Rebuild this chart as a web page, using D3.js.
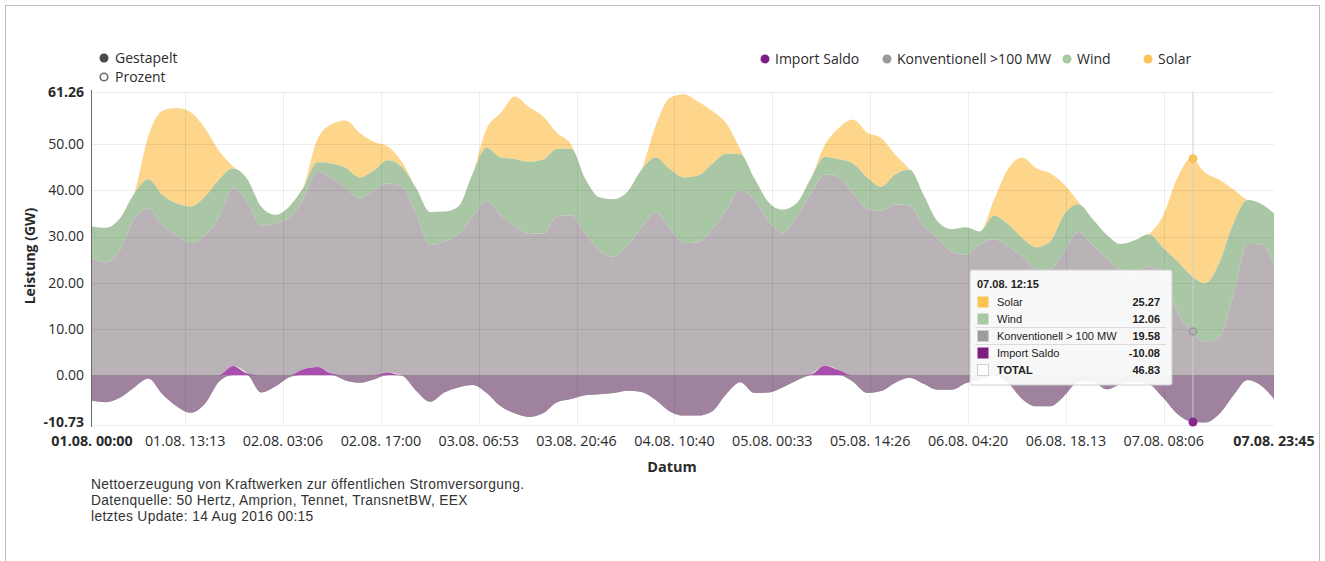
<!DOCTYPE html>
<html>
<head>
<meta charset="utf-8">
<script src="https://cdn.jsdelivr.net/npm/d3@7/dist/d3.min.js"></script>
<style>
  body { margin: 0; background: #fff; }
  svg text { font-family: "Open Sans", "Noto Sans", sans-serif; fill: #2b2b2b; }
  .tip text { font-family: "Liberation Sans Narrow", "Liberation Sans", Arial, sans-serif; font-size: 11px; fill: #222; }
  .footer text { font-family: "Liberation Sans", Arial, sans-serif; font-size: 13.8px; letter-spacing: 0.33px; fill: #333; }
</style>
</head>
<body>
<svg id="chart" width="1325" height="561"></svg>
<script>
///////////////////////////////////////////////////////////////////////////
// Data (GW, one value every 2 hours from 01.08. 00:00, last at 07.08. 23:45)
///////////////////////////////////////////////////////////////////////////

const startTime = new Date(2016, 7, 1, 0, 0);
const endTime = new Date(2016, 7, 7, 23, 45);

const importSaldo = [
    -5.5, -5.8, -4.8, -2.6, -0.7, -4.1, -6.7, -8.1, -6.2, -1.4, 2.0, 0.4,
    -3.7, -2.4, -0.4, 1.3, 1.8, 0.4, -1.1, -1.6, -0.9, 0.6, -0.1, -3.3,
    -5.7, -3.7, -2.6, -2.1, -3.8, -6.7, -8.2, -9.0, -8.2, -5.8, -5.1, -4.3,
    -4.1, -3.8, -3.3, -3.6, -5.3, -7.8, -8.7, -8.7, -7.8, -4.1, -1.5, -3.8,
    -3.7, -2.6, -1.1, 0.2, 2.1, 1.1, -1.4, -3.8, -3.4, -1.6, -0.5, -1.8,
    -3.1, -3.1, -1.7, -0.9, 0.1, -1.6, -5.1, -6.7, -6.7, -4.4, -1.4, -1.3,
    -3.0, -1.9, -1.4, -1.9, -4.8, -8.3, -10.0, -10.2, -8.3, -4.3, -1.0, -2.3,
    -5.1
];
const konventionell = [
    30.9, 30.2, 32.0, 36.6, 36.8, 36.6, 37.0, 36.7, 36.5, 35.5, 38.4, 37.3,
    36.1, 35.3, 34.4, 37.0, 42.2, 42.3, 41.7, 39.8, 40.9, 40.9, 41.0, 38.3,
    33.9, 32.7, 33.1, 36.4, 41.5, 41.4, 40.3, 39.8, 38.8, 40.2, 39.7, 35.1,
    31.1, 29.5, 31.3, 35.7, 40.5, 39.7, 37.3, 37.5, 39.3, 39.8, 41.5, 41.8,
    37.1, 33.4, 35.5, 39.0, 41.3, 41.7, 40.8, 39.8, 39.0, 38.6, 37.2, 34.2,
    32.8, 29.8, 27.7, 29.2, 29.4, 29.5, 30.9, 29.8, 29.6, 31.5, 32.4, 29.6,
    28.4, 24.8, 23.6, 25.5, 26.7, 22.3, 19.5, 17.5, 16.6, 21.9, 29.4, 30.6,
    29.1
];
const wind = [
    6.8, 7.5, 6.8, 5.3, 6.3, 6.5, 6.9, 7.9, 8.3, 8.2, 4.3, 4.8,
    4.1, 1.8, 2.5, 2.3, 2.1, 3.1, 4.3, 4.6, 4.3, 5.0, 4.1, 5.5,
    7.1, 6.4, 6.0, 9.2, 11.5, 12.4, 14.7, 15.4, 16.0, 14.6, 14.4, 11.7,
    11.5, 12.4, 11.7, 12.4, 11.9, 12.7, 14.2, 14.4, 14.2, 12.2, 7.8, 4.6,
    4.1, 5.0, 2.8, 3.3, 3.8, 3.9, 6.4, 6.8, 5.2, 6.4, 7.8, 6.7,
    3.6, 4.9, 6.0, 2.8, 5.0, 4.8, 3.9, 4.6, 6.1, 7.8, 6.0, 5.5,
    5.0, 5.5, 7.0, 6.9, 5.7, 10.7, 12.1, 12.6, 16.1, 15.3, 9.5, 8.7,
    11.0
];
const solar = [
    0, 0, 0, 0, 9.4, 18.2, 20.6, 20.4, 14.9, 6.3, 0.5, 0,
    0, 0, 0, 0, 5.0, 8.5, 10.2, 9.6, 6.2, 3.0, 1.1, 0,
    0, 0, 0, 0, 4.1, 9.6, 13.5, 11.8, 9.4, 3.4, 0.9, 0,
    0, 0, 0, 0, 6.9, 15.4, 18.0, 16.0, 11.5, 6.6, 1.1, 0,
    0, 0, 0, 0, 2.6, 6.8, 9.5, 9.7, 10.5, 4.3, 0, 0,
    0, 0, 0, 0, 3.4, 11.9, 17.4, 17.1, 14.7, 6.3, 0.5, 0,
    0, 0, 0, 0, 6.9, 17.9, 25.3, 23.9, 17.9, 7.3, 0, 0,
    0
];

const xTickLabels = ["01.08. 00:00", "01.08. 13:13", "02.08. 03:06", "02.08. 17:00",
    "03.08. 06:53", "03.08. 20:46", "04.08. 10:40", "05.08. 00:33", "05.08. 14:26",
    "06.08. 04:20", "06.08. 18.13", "07.08. 08:06", "07.08. 23:45"];
const yTickValues = [-10.73, 0, 10, 20, 30, 40, 50, 61.26];

const seriesKeys = ["importSaldo", "konventionell", "wind", "solar"];
const legendNames = ["Import Saldo", "Konventionell >100 MW", "Wind", "Solar"];
const legendColors = ["#7d1f82", "#9b9b9b", "#a9c8a4", "#fbc456"];
const modeNames = ["Gestapelt", "Prozent"];

// hovered point shown in the tooltip
const tipTime = new Date(2016, 7, 7, 12, 15);
const tipNames = ["Solar", "Wind", "Konventionell > 100 MW", "Import Saldo", "TOTAL"];
const tipValues = [25.27, 12.06, 19.58, -10.08, 46.83];
const tipSwatches = ["#f9c452", "#a9c8a4", "#9d9d9d", "#7d1f82", "#ffffff"];

const footerLines = [
    "Nettoerzeugung von Kraftwerken zur öffentlichen Stromversorgung.",
    "Datenquelle: 50 Hertz, Amprion, Tennet, TransnetBW, EEX",
    "letztes Update: 14 Aug 2016 00:15"
];

///////////////////////////////////////////////////////////////////////////
// Setup
///////////////////////////////////////////////////////////////////////////

const svg = d3.select("#chart");
const plot = { left: 92, right: 1274, top: 92, bottom: 425 };

// the last sample is 23:45, all others on the 2 hour grid
const times = importSaldo.map((d, i) =>
    i < importSaldo.length - 1 ? d3.timeHour.offset(startTime, 2 * i) : endTime);

const rows = times.map((t, i) => ({
    time: t,
    importSaldo: importSaldo[i],
    konventionell: konventionell[i],
    wind: wind[i],
    solar: solar[i]
}));

// tick labels carry their own time ("18.13" typo included)
function parseLabel(s) {
    let m = s.match(/(\d+)\.(\d+)\. (\d+)[:.](\d+)/);
    return new Date(2016, +m[2] - 1, +m[1], +m[3], +m[4]);
}
const xTickTimes = xTickLabels.map(parseLabel);

const x = d3.scaleTime()
    .domain([startTime, endTime])
    .range([plot.left, plot.right]);

const y = d3.scaleLinear()
    .domain([yTickValues[0], yTickValues[yTickValues.length - 1]])
    .range([plot.bottom, plot.top]);

// Highcharts-like cumulative stack: every series starts where the previous ended
const stacked = d3.stack().keys(seriesKeys).offset(d3.stackOffsetNone)(rows);

const fmt = function(v) { return v.toFixed(2); };   // plain hyphen minus, like the original

///////////////////////////////////////////////////////////////////////////
// Frame
///////////////////////////////////////////////////////////////////////////

svg.append("rect")
    .attr("x", 5.5).attr("y", 5.5)
    .attr("width", 1314).attr("height", 620)
    .attr("fill", "none")
    .attr("stroke", "#bdbdbd");

///////////////////////////////////////////////////////////////////////////
// Areas
///////////////////////////////////////////////////////////////////////////

const areaColors = { konventionell: "#b9b2b6", wind: "#a9c7a4", solar: "#fed68b" };

const gArea = svg.append("g");

["solar", "wind", "konventionell"].forEach(function(key) {
    let layer = stacked[seriesKeys.indexOf(key)];
    let area = d3.area()
        .curve(d3.curveMonotoneX)
        .x(function(d) { return x(d.data.time); })
        .y0(function(d) { return y(d[0]); })
        .y1(function(d) { return y(d[1]); });
    gArea.append("path")
        .datum(layer)
        .attr("fill", areaColors[key])
        .attr("d", area);
});

// import: negative part pale, positive part saturated
const impLayer = stacked[0];
const impNeg = d3.area()
    .curve(d3.curveMonotoneX)
    .x(function(d) { return x(d.data.time); })
    .y0(y(0))
    .y1(function(d) { return y(Math.min(d[1], 0)); });
const impPos = d3.area()
    .curve(d3.curveMonotoneX)
    .x(function(d) { return x(d.data.time); })
    .y0(y(0))
    .y1(function(d) { return y(Math.max(d[1], 0)); });

gArea.append("path").datum(impLayer).attr("fill", "#9e829e").attr("d", impNeg);
gArea.append("path").datum(impLayer).attr("fill", "#a94eac").attr("d", impPos);

///////////////////////////////////////////////////////////////////////////
// Grid and axes
///////////////////////////////////////////////////////////////////////////

const gGrid = svg.append("g");

gGrid.selectAll("line.h")
    .data(yTickValues)
    .enter().append("line")
        .attr("x1", plot.left).attr("x2", plot.right)
        .attr("y1", function(d) { return Math.round(y(d)) + 0.5; })
        .attr("y2", function(d) { return Math.round(y(d)) + 0.5; })
        .attr("stroke", "rgba(0,0,0,0.07)");

gGrid.selectAll("line.v")
    .data(xTickTimes.slice(1, -1))
    .enter().append("line")
        .attr("x1", function(d) { return Math.round(x(d)) + 0.5; })
        .attr("x2", function(d) { return Math.round(x(d)) + 0.5; })
        .attr("y1", plot.top).attr("y2", plot.bottom)
        .attr("stroke", "rgba(0,0,0,0.07)");

svg.append("line")
    .attr("x1", plot.left - 0.5).attr("x2", plot.left - 0.5)
    .attr("y1", plot.top - 2).attr("y2", plot.bottom + 2)
    .attr("stroke", "#6a6a6a");

const last = yTickValues.length - 1;
svg.append("g").selectAll("text")
    .data(yTickValues)
    .enter().append("text")
        .attr("x", 84)
        .attr("y", function(d, i) { return i === 0 ? y(d) - 3 : y(d); })
        .attr("dy", "0.35em")
        .attr("text-anchor", "end")
        .attr("font-size", 14)
        .attr("font-weight", function(d, i) { return (i === 0 || i === last) ? 700 : 400; })
        .text(function(d) { return fmt(d); });

svg.append("g").selectAll("text")
    .data(xTickTimes)
    .enter().append("text")
        .attr("x", function(d) { return x(d); })
        .attr("y", 446)
        .attr("text-anchor", "middle")
        .attr("font-size", 14.3)
        .attr("font-weight", function(d, i) { return (i === 0 || i === xTickTimes.length - 1) ? 700 : 400; })
        .text(function(d, i) { return xTickLabels[i]; });

svg.append("text")
    .attr("x", 672).attr("y", 472)
    .attr("text-anchor", "middle")
    .attr("font-size", 14.5)
    .attr("font-weight", 700)
    .text("Datum");

svg.append("text")
    .attr("transform", "translate(35,256) rotate(-90)")
    .attr("text-anchor", "middle")
    .attr("font-size", 14)
    .attr("font-weight", 700)
    .text("Leistung (GW)");

///////////////////////////////////////////////////////////////////////////
// Legends
///////////////////////////////////////////////////////////////////////////

const gMode = svg.append("g");
modeNames.forEach(function(name, i) {
    let cy = 58 + i * 19;
    gMode.append("circle")
        .attr("cx", 104).attr("cy", cy).attr("r", i === 0 ? 4.5 : 3.8)
        .attr("fill", i === 0 ? "#4a4a4a" : "#fff")
        .attr("stroke", i === 0 ? "#4a4a4a" : "#6d6d6d")
        .attr("stroke-width", i === 0 ? 0 : 1.6);
    gMode.append("text")
        .attr("x", 115).attr("y", cy).attr("dy", "0.35em")
        .attr("font-size", 14)
        .text(name);
});

const legendX = [765, 887, 1067, 1148];
const gLegend = svg.append("g");
legendNames.forEach(function(name, i) {
    gLegend.append("circle")
        .attr("cx", legendX[i]).attr("cy", 59).attr("r", 4.5)
        .attr("fill", legendColors[i]);
    gLegend.append("text")
        .attr("x", legendX[i] + 10).attr("y", 59).attr("dy", "0.35em")
        .attr("font-size", 14)
        .text(name);
});

///////////////////////////////////////////////////////////////////////////
// Hover state: crosshair, markers, tooltip
///////////////////////////////////////////////////////////////////////////

const tx = x(tipTime);
const tipImport = tipValues[3];
const tipConvTop = tipImport + tipValues[2];
const tipTotal = tipValues[4];

svg.append("line")
    .attr("x1", tx).attr("x2", tx)
    .attr("y1", plot.top).attr("y2", plot.bottom)
    .attr("stroke", "#cfcfcf");

svg.append("circle").attr("cx", tx).attr("cy", y(tipTotal)).attr("r", 4.5)
    .attr("fill", "#f6c25a");
svg.append("circle").attr("cx", tx).attr("cy", y(tipConvTop)).attr("r", 3.5)
    .attr("fill", "#b3b3b3").attr("stroke", "#9a9a9a").attr("stroke-width", 1.5);
svg.append("circle").attr("cx", tx).attr("cy", y(tipImport)).attr("r", 4.5)
    .attr("fill", "#8a2590");

const tip = svg.append("g").attr("class", "tip").attr("transform", "translate(970,270)");

tip.append("rect")
    .attr("width", 202).attr("height", 115)
    .attr("rx", 2)
    .attr("fill", "rgba(255,255,255,0.9)")
    .attr("stroke", "#cfcfcf");

tip.append("text")
    .attr("x", 7).attr("y", 18)
    .attr("font-weight", 700)
    .text("07.08. 12:15");

tipNames.forEach(function(name, i) {
    let cy = 32 + i * 17;
    tip.append("rect")
        .attr("x", 7.5).attr("y", cy - 5.5)
        .attr("width", 11).attr("height", 11)
        .attr("fill", tipSwatches[i])
        .attr("stroke", i === 4 ? "#cfcfcf" : "none");
    tip.append("text")
        .attr("x", 27).attr("y", cy).attr("dy", "0.35em")
        .attr("font-weight", i === 4 ? 700 : 400)
        .attr("fill", "#333")
        .text(name);
    tip.append("text")
        .attr("x", 190).attr("y", cy).attr("dy", "0.35em")
        .attr("text-anchor", "end")
        .attr("font-weight", 700)
        .text(fmt(tipValues[i]));
});

// highlighted row (Konventionell)
[57.5, 74.5].forEach(function(ly) {
    tip.append("line")
        .attr("x1", 5).attr("x2", 196)
        .attr("y1", ly).attr("y2", ly)
        .attr("stroke", "#dadada");
});

///////////////////////////////////////////////////////////////////////////
// Footer
///////////////////////////////////////////////////////////////////////////

svg.append("g").attr("class", "footer").selectAll("text")
    .data(footerLines)
    .enter().append("text")
        .attr("x", 91)
        .attr("y", function(d, i) { return 484 + i * 16; })
        .attr("dy", "0.35em")
        .text(function(d) { return d; });
</script>
</body>
</html>
